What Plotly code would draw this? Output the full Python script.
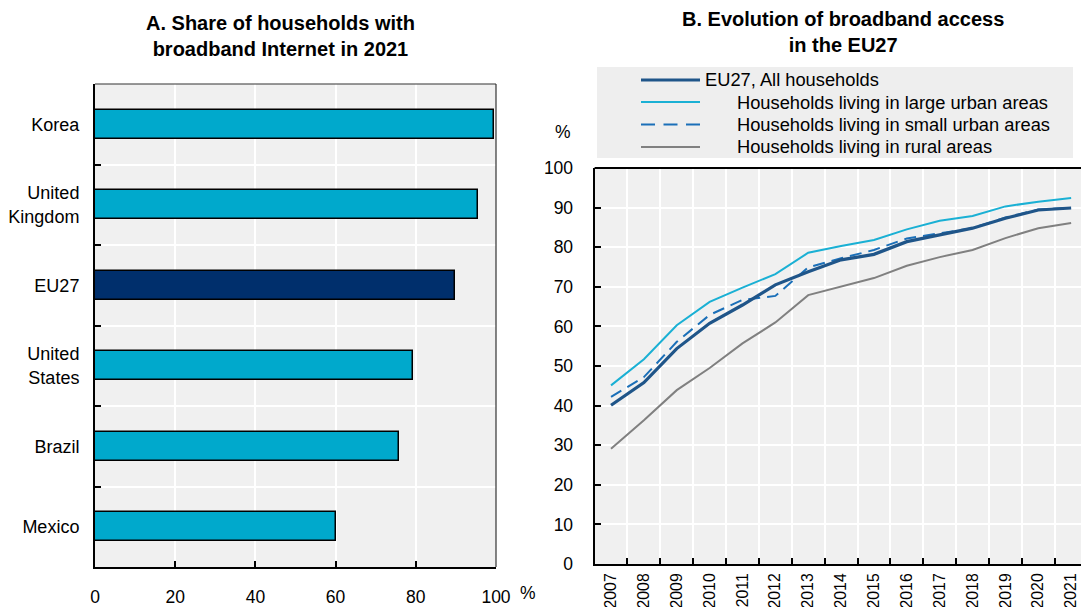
import plotly.graph_objects as go

# Panel A: share of households with broadband Internet, 2021 (%)
countries = ["Korea", "United<br>Kingdom", "EU27", "United<br>States", "Brazil", "Mexico"]
share_2021 = [99.5, 95.5, 89.8, 79.2, 75.7, 60.2]

# Panel B: evolution of broadband access in the EU27 (%)
years = [str(y) for y in range(2007, 2022)]
eu_all = [40.1, 45.8, 54.4, 60.8, 65.4, 70.5, 73.8, 76.8, 78.2, 81.4, 83.1, 84.8, 87.3, 89.4, 89.9]
large_urban = [45.1, 51.7, 60.3, 66.2, 69.8, 73.2, 78.6, 80.3, 81.8, 84.5, 86.7, 87.9, 90.3, 91.5, 92.4]
small_urban = [42.2, 47.2, 56.1, 62.9, 66.7, 67.7, 74.9, 77.2, 79.3, 82.2, 83.5, 84.8, 87.5, 89.5, 90.0]
rural = [29.1, 36.3, 43.9, 49.5, 55.7, 61.0, 67.9, 70.0, 72.2, 75.3, 77.5, 79.3, 82.3, 84.8, 86.1]

series_names = [
    "EU27, All households",
    "Households living in large urban areas",
    "Households living in small urban areas",
    "Households living in rural areas",
]

CYAN = "#00a9cc"
NAVY = "#002f6c"
BG = "#f0f0f0"
FONT = "Liberation Sans, Arial, sans-serif"

W, H = 1081, 607


def px(x):
    return x / W


def py(y):
    return 1 - y / H


fig = go.Figure()

bar_colors = [NAVY if c == "EU27" else CYAN for c in countries]
fig.add_trace(go.Bar(
    x=share_2021, y=countries, orientation="h",
    marker=dict(color=bar_colors, line=dict(color="black", width=1.5)),
    width=0.36, xaxis="x", yaxis="y", showlegend=False,
))

line_styles = [
    dict(color="#1f5589", width=3.2, dash="solid"),
    dict(color="#1ab0d4", width=2, dash="solid"),
    dict(color="#1a6fb8", width=2, dash="12px,7px"),
    dict(color="#808080", width=2, dash="solid"),
]
# dash pattern used for the key samples (three full dashes per sample)
key_dashes = ["solid", "solid", "14px,8.5px", "solid"]
series_values = [eu_all, large_urban, small_urban, rural]
draw_order = [3, 1, 2, 0]
for i in draw_order:
    fig.add_trace(go.Scatter(
        x=years, y=series_values[i], mode="lines", name=series_names[i],
        line=line_styles[i], xaxis="x2", yaxis="y2", showlegend=False,
    ))

num_font = dict(family=FONT, size=17.5, color="black")
year_font = dict(family=FONT, size=15.8, color="black")
cat_font = dict(family=FONT, size=18, color="black")

common = dict(
    showgrid=True, gridcolor="white", gridwidth=1.5, zeroline=False,
    showline=True, linecolor="black", linewidth=2,
    ticks="inside", ticklen=6, tickcolor="black", tickwidth=1.5,
    automargin=False,
)

fig.update_layout(
    width=W, height=H,
    margin=dict(l=0, r=0, t=0, b=0),
    paper_bgcolor="white",
    plot_bgcolor=BG,
    font=dict(family=FONT, size=17, color="black"),
    bargap=0,
    xaxis=dict(
        domain=[px(95), px(496)], range=[0, 100], tickvals=[0, 20, 40, 60, 80, 100],
        tickfont=num_font, ticklabelstandoff=13, anchor="y", **common,
    ),
    yaxis=dict(
        domain=[py(567), py(84)], type="category", range=[5.5, -0.5],
        categoryorder="array", categoryarray=countries, tickson="boundaries",
        tickfont=cat_font, ticklabelstandoff=10, anchor="x", **common,
    ),
    xaxis2=dict(
        domain=[px(594.6), 1.0], type="category", range=[-0.5, 14.3],
        tickson="boundaries", tickangle=-90, tickfont=year_font,
        ticklabelstandoff=1, anchor="y2", **common,
    ),
    yaxis2=dict(
        domain=[py(564), py(168)], range=[0, 100], tickvals=list(range(0, 101, 10)),
        tickfont=num_font, ticklabelstandoff=16, anchor="x2", **common,
    ),
)

shapes = [
    # thin frame on the top and right of panel A
    dict(type="line", xref="paper", yref="paper", x0=px(95), x1=px(496), y0=py(84), y1=py(84),
         line=dict(color="#333333", width=1.2)),
    dict(type="line", xref="paper", yref="paper", x0=px(496), x1=px(496), y0=py(84), y1=py(567),
         line=dict(color="#333333", width=1.2)),
    # top border of panel B
    dict(type="line", xref="paper", yref="paper", x0=px(594.6), x1=1.0, y0=py(168), y1=py(168),
         line=dict(color="black", width=2)),
    # legend box for panel B
    dict(type="rect", xref="paper", yref="paper", x0=px(597), x1=px(1073), y0=py(158), y1=py(67),
         fillcolor="#eeeeee", line=dict(width=0), layer="below"),
]

legend_rows_y = [80, 102, 124.5, 147]
legend_text_x = [703, 735, 735, 735]
annotations = []
for k in range(4):
    st = line_styles[k]
    shapes.append(dict(
        type="line", xref="paper", yref="paper",
        x0=px(641), x1=px(700), y0=py(legend_rows_y[k]), y1=py(legend_rows_y[k]),
        line=dict(color=st["color"], width=st["width"], dash=key_dashes[k]),
    ))
    annotations.append(dict(
        text=series_names[k], xref="paper", yref="paper",
        x=px(legend_text_x[k]), y=py(legend_rows_y[k]), xanchor="left", yanchor="middle",
        showarrow=False, font=dict(family=FONT, size=18.3, color="black"),
    ))

title_font = dict(family=FONT, size=20, color="black")
annotations += [
    dict(text="<b>A. Share of households with</b><br><b>broadband Internet in 2021</b>",
         xref="paper", yref="paper", x=px(280), y=py(36), xanchor="center", yanchor="middle",
         showarrow=False, font=title_font, align="center"),
    dict(text="<b>B. Evolution of broadband access</b><br><b>in the EU27</b>",
         xref="paper", yref="paper", x=px(843), y=py(32), xanchor="center", yanchor="middle",
         showarrow=False, font=title_font, align="center"),
    dict(text="%", xref="paper", yref="paper", x=px(528), y=py(593), xanchor="center",
         yanchor="middle", showarrow=False, font=num_font),
    dict(text="%", xref="paper", yref="paper", x=px(563), y=py(132), xanchor="center",
         yanchor="middle", showarrow=False, font=num_font),
]

fig.update_layout(shapes=shapes, annotations=annotations)

fig.write_html("out.html")
